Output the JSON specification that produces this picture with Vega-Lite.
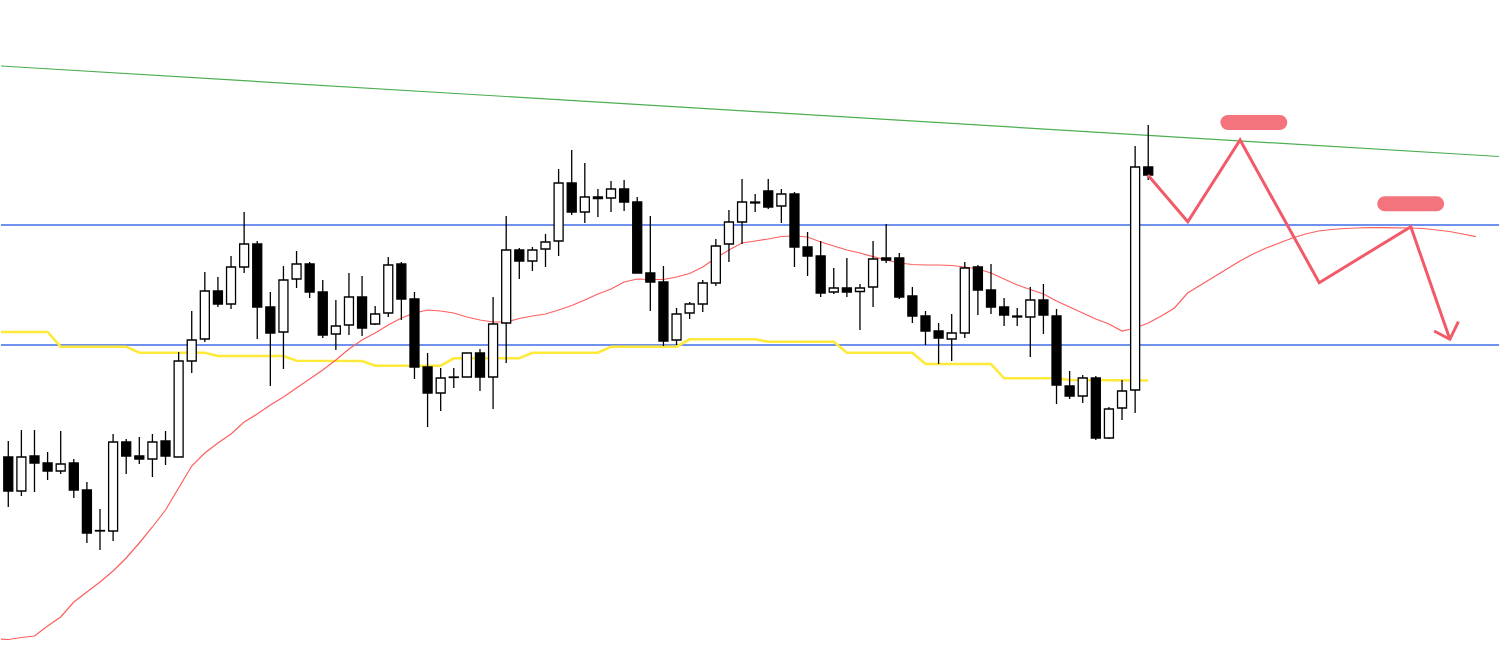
{
  "$schema": "https://vega.github.io/schema/vega-lite/v6.json",
  "width": 1500,
  "height": 645,
  "autosize": {"type": "fit", "contains": "padding"},
  "padding": 0,
  "background": "#ffffff",
  "config": {"view": {"stroke": null}},
  "datasets": {
    "candles": [
      {"t":0,"o":457,"h":441,"l":507,"c":491},
      {"t":1,"o":491,"h":430,"l":496,"c":457},
      {"t":2,"o":456,"h":430,"l":492,"c":463},
      {"t":3,"o":463,"h":452,"l":480,"c":471},
      {"t":4,"o":471,"h":431,"l":474,"c":464},
      {"t":5,"o":463,"h":459,"l":498,"c":490},
      {"t":6,"o":490,"h":482,"l":543,"c":533},
      {"t":7,"o":530.5,"h":509,"l":550,"c":531},
      {"t":8,"o":531,"h":434,"l":541,"c":442},
      {"t":9,"o":442,"h":439,"l":474,"c":456},
      {"t":10,"o":456,"h":437,"l":464,"c":459},
      {"t":11,"o":459,"h":434,"l":477,"c":442},
      {"t":12,"o":441,"h":431,"l":465,"c":456},
      {"t":13,"o":457,"h":352,"l":457,"c":361},
      {"t":14,"o":361,"h":311,"l":373,"c":340},
      {"t":15,"o":339,"h":272,"l":342,"c":291},
      {"t":16,"o":291,"h":277,"l":307,"c":304},
      {"t":17,"o":304,"h":256,"l":309,"c":267},
      {"t":18,"o":267,"h":212,"l":273,"c":244},
      {"t":19,"o":244,"h":241,"l":339,"c":307},
      {"t":20,"o":307,"h":292,"l":386,"c":333},
      {"t":21,"o":332,"h":266,"l":369,"c":280},
      {"t":22,"o":279,"h":251,"l":288,"c":264},
      {"t":23,"o":264,"h":262,"l":298,"c":292},
      {"t":24,"o":292,"h":280,"l":338,"c":335},
      {"t":25,"o":334,"h":300,"l":350,"c":326},
      {"t":26,"o":325,"h":273,"l":335,"c":297},
      {"t":27,"o":297,"h":276,"l":336,"c":328},
      {"t":28,"o":324,"h":306,"l":325,"c":314},
      {"t":29,"o":313,"h":257,"l":317,"c":265},
      {"t":30,"o":264,"h":262,"l":320,"c":299},
      {"t":31,"o":299,"h":292,"l":379,"c":367},
      {"t":32,"o":367,"h":353,"l":427,"c":393},
      {"t":33,"o":393,"h":368,"l":411,"c":378},
      {"t":34,"o":377,"h":368,"l":388,"c":377.5},
      {"t":35,"o":377,"h":353,"l":377,"c":353},
      {"t":36,"o":353,"h":349,"l":391,"c":377},
      {"t":37,"o":377,"h":297,"l":409,"c":324},
      {"t":38,"o":323,"h":216,"l":363,"c":250},
      {"t":39,"o":250,"h":248,"l":279,"c":261},
      {"t":40,"o":261,"h":247,"l":271,"c":250},
      {"t":41,"o":249,"h":234,"l":267,"c":242},
      {"t":42,"o":241,"h":169,"l":256,"c":183},
      {"t":43,"o":183,"h":150,"l":215,"c":212},
      {"t":44,"o":212,"h":163,"l":223,"c":197},
      {"t":45,"o":197,"h":189,"l":217,"c":198.5},
      {"t":46,"o":198,"h":181,"l":212,"c":189},
      {"t":47,"o":189,"h":180,"l":211,"c":202},
      {"t":48,"o":202,"h":197,"l":273,"c":273},
      {"t":49,"o":273,"h":216,"l":311,"c":282},
      {"t":50,"o":282,"h":266,"l":346,"c":341},
      {"t":51,"o":340,"h":308,"l":345,"c":314},
      {"t":52,"o":313,"h":302,"l":319,"c":304},
      {"t":53,"o":304,"h":280,"l":312,"c":283},
      {"t":54,"o":283,"h":239,"l":286,"c":246},
      {"t":55,"o":244,"h":210,"l":262,"c":222},
      {"t":56,"o":222,"h":179,"l":244,"c":202},
      {"t":57,"o":202,"h":194,"l":212,"c":203},
      {"t":58,"o":191,"h":179,"l":209,"c":207},
      {"t":59,"o":206,"h":189,"l":223,"c":194},
      {"t":60,"o":194,"h":192,"l":267,"c":247},
      {"t":61,"o":247,"h":232,"l":276,"c":256},
      {"t":62,"o":256,"h":241,"l":297,"c":293},
      {"t":63,"o":292,"h":268,"l":294,"c":288},
      {"t":64,"o":288,"h":258,"l":297,"c":292},
      {"t":65,"o":291.5,"h":284,"l":330,"c":288},
      {"t":66,"o":287,"h":241,"l":307,"c":259},
      {"t":67,"o":258,"h":224,"l":263,"c":260},
      {"t":68,"o":258,"h":253,"l":299,"c":297},
      {"t":69,"o":296,"h":287,"l":323,"c":316},
      {"t":70,"o":316,"h":311,"l":345,"c":331},
      {"t":71,"o":331,"h":323,"l":364,"c":338},
      {"t":72,"o":339,"h":314,"l":361,"c":333},
      {"t":73,"o":333,"h":262,"l":338,"c":268},
      {"t":74,"o":267,"h":265,"l":315,"c":290},
      {"t":75,"o":290,"h":264,"l":314,"c":307},
      {"t":76,"o":307,"h":298,"l":326,"c":315},
      {"t":77,"o":316,"h":308,"l":326,"c":317},
      {"t":78,"o":317,"h":287,"l":357,"c":300},
      {"t":79,"o":300,"h":284,"l":334,"c":315},
      {"t":80,"o":316,"h":309,"l":404,"c":385},
      {"t":81,"o":386,"h":371,"l":399,"c":396},
      {"t":82,"o":396,"h":375,"l":403,"c":378},
      {"t":83,"o":378,"h":376,"l":440,"c":438},
      {"t":84,"o":438,"h":407,"l":439,"c":409},
      {"t":85,"o":408,"h":380,"l":420,"c":391},
      {"t":86,"o":390,"h":146,"l":413,"c":167},
      {"t":87,"o":167,"h":125,"l":180,"c":175}
    ],
    "ma": [
      {"t":-1,"v":639},{"t":0,"v":639.5},{"t":1,"v":637.5},{"t":2,"v":636},{"t":3,"v":626},
      {"t":4,"v":617},{"t":5,"v":602},{"t":6,"v":592},{"t":7,"v":582},{"t":8,"v":571},
      {"t":9,"v":558},{"t":10,"v":543},{"t":11,"v":527},{"t":12,"v":510},{"t":13,"v":488},
      {"t":14,"v":466},{"t":15,"v":453},{"t":16,"v":443},{"t":17,"v":434},{"t":18,"v":422},
      {"t":19,"v":414},{"t":20,"v":405},{"t":21,"v":397},{"t":22,"v":388},{"t":23,"v":379},
      {"t":24,"v":370},{"t":25,"v":360},{"t":26,"v":349},{"t":27,"v":340},{"t":28,"v":333},
      {"t":29,"v":325},{"t":30,"v":318},{"t":31,"v":313},{"t":32,"v":310},{"t":33,"v":311},
      {"t":34,"v":313},{"t":35,"v":317},{"t":36,"v":320},{"t":37,"v":322},{"t":38,"v":322},
      {"t":39,"v":318.5},{"t":40,"v":316},{"t":41,"v":314},{"t":42,"v":310},{"t":43,"v":305.5},
      {"t":44,"v":300},{"t":45,"v":294},{"t":46,"v":289},{"t":47,"v":282},{"t":48,"v":279},
      {"t":49,"v":279.5},{"t":50,"v":279.5},{"t":51,"v":277},{"t":52,"v":273.5},{"t":53,"v":267},
      {"t":54,"v":258},{"t":55,"v":250},{"t":56,"v":243},{"t":57,"v":241},{"t":58,"v":239},
      {"t":59,"v":236.5},{"t":60,"v":236},{"t":61,"v":237},{"t":62,"v":242},{"t":63,"v":246},
      {"t":64,"v":250},{"t":65,"v":253},{"t":66,"v":256.7},{"t":67,"v":260},{"t":68,"v":263},
      {"t":69,"v":264.5},{"t":70,"v":265},{"t":71,"v":265},{"t":72,"v":265.5},{"t":73,"v":267},
      {"t":74,"v":269},{"t":75,"v":273},{"t":76,"v":279},{"t":77,"v":285},{"t":78,"v":289.5},
      {"t":79,"v":294},{"t":80,"v":301},{"t":81,"v":307},{"t":82,"v":313},{"t":83,"v":319},
      {"t":84,"v":324},{"t":85,"v":331},{"t":86,"v":328},{"t":87,"v":323},{"t":88,"v":316},
      {"t":89,"v":308},{"t":90,"v":293},{"t":91,"v":285},{"t":92,"v":277},{"t":93,"v":269},
      {"t":94,"v":261},{"t":95,"v":254},{"t":96,"v":248},{"t":97,"v":243},{"t":98,"v":238},
      {"t":99,"v":234},{"t":100,"v":231},{"t":101,"v":229.5},{"t":102,"v":228.5},{"t":103,"v":228},
      {"t":104,"v":227.7},{"t":105,"v":227.7},{"t":106,"v":227.8},{"t":107,"v":228},{"t":108,"v":228.5},
      {"t":109,"v":230},{"t":110,"v":231.5},{"t":111,"v":234},{"t":112,"v":236.7}
    ],
    "kijun": [
      {"t":-1,"v":332},{"t":3,"v":332},{"t":4,"v":346.7},{"t":9,"v":346.7},{"t":10,"v":352.7},
      {"t":15,"v":352.7},{"t":16,"v":356},{"t":21,"v":356},{"t":22,"v":360.7},{"t":27,"v":361},
      {"t":28,"v":365.7},{"t":33,"v":365.7},{"t":34,"v":358.3},{"t":39,"v":358.3},{"t":40,"v":352.7},
      {"t":45,"v":352.7},{"t":46,"v":346.7},{"t":51,"v":346.7},{"t":52,"v":339.3},{"t":57,"v":339.3},
      {"t":58,"v":341.7},{"t":63,"v":341.7},{"t":64,"v":352.7},{"t":69,"v":352.7},{"t":70,"v":364},
      {"t":75,"v":364},{"t":76,"v":378.3},{"t":80,"v":378.3},{"t":81,"v":380},{"t":87,"v":380.5}
    ],
    "levels": [{"v":225},{"v":345}],
    "trend": [{"t":-0.556,"v":66},{"t":113.77,"v":156.5}],
    "zigzag": [
      {"k":0,"t":86.97,"v":175},{"k":1,"t":90.02,"v":221.7},{"k":2,"t":94.01,"v":140},
      {"k":3,"t":100.05,"v":282.7},{"k":4,"t":107.04,"v":226.7},{"k":5,"t":110.02,"v":339.3}
    ],
    "arrowhead": [
      {"k":0,"t":108.82,"v":331},{"k":1,"t":110.02,"v":339.3},{"k":2,"t":110.67,"v":321.7}
    ],
    "pills": [
      {"t1":93.08,"t2":97.04,"v":122.5},
      {"t1":105.05,"t2":109.01,"v":203.8}
    ]
  },
  "layer": [
    {
      "data": {"name": "trend"},
      "mark": {"type": "line", "color": "#4caf50", "strokeWidth": 1.2, "clip": true},
      "encoding": {
        "x": {"field": "t", "type": "quantitative", "scale": {"domain": [-0.556, 113.77], "nice": false, "zero": false, "padding": 0}, "axis": null},
        "y": {"field": "v", "type": "quantitative", "scale": {"domain": [0, 645], "reverse": true, "nice": false, "zero": false, "padding": 0}, "axis": null}
      }
    },
    {
      "data": {"name": "levels"},
      "mark": {"type": "rule", "color": "#3f6be6", "strokeWidth": 1.4},
      "encoding": {
        "y": {"field": "v", "type": "quantitative"}
      }
    },
    {
      "data": {"name": "kijun"},
      "mark": {"type": "line", "color": "#ffe93a", "strokeWidth": 2.6, "clip": true},
      "encoding": {
        "x": {"field": "t", "type": "quantitative"},
        "y": {"field": "v", "type": "quantitative"}
      }
    },
    {
      "data": {"name": "ma"},
      "mark": {"type": "line", "color": "#ff5f5f", "strokeWidth": 1.2, "clip": true},
      "encoding": {
        "x": {"field": "t", "type": "quantitative"},
        "y": {"field": "v", "type": "quantitative"}
      }
    },
    {
      "data": {"name": "candles"},
      "mark": {"type": "rule", "color": "#000000", "strokeWidth": 1.3},
      "encoding": {
        "x": {"field": "t", "type": "quantitative"},
        "y": {"field": "h", "type": "quantitative"},
        "y2": {"field": "l"}
      }
    },
    {
      "data": {"name": "candles"},
      "mark": {"type": "bar", "width": 9, "stroke": "#000000", "strokeWidth": 1.3},
      "encoding": {
        "x": {"field": "t", "type": "quantitative"},
        "y": {"field": "o", "type": "quantitative"},
        "y2": {"field": "c"},
        "fill": {"condition": {"test": "datum.c < datum.o", "value": "#ffffff"}, "value": "#000000"}
      }
    },
    {
      "data": {"name": "zigzag"},
      "mark": {"type": "line", "color": "#f25a69", "strokeWidth": 3, "strokeJoin": "miter", "clip": true},
      "encoding": {
        "x": {"field": "t", "type": "quantitative"},
        "y": {"field": "v", "type": "quantitative"},
        "order": {"field": "k", "type": "quantitative"}
      }
    },
    {
      "data": {"name": "arrowhead"},
      "mark": {"type": "line", "color": "#f25a69", "strokeWidth": 3, "strokeJoin": "miter", "clip": true},
      "encoding": {
        "x": {"field": "t", "type": "quantitative"},
        "y": {"field": "v", "type": "quantitative"},
        "order": {"field": "k", "type": "quantitative"}
      }
    },
    {
      "data": {"name": "pills"},
      "mark": {"type": "rule", "color": "#f4747e", "strokeWidth": 15, "strokeCap": "round"},
      "encoding": {
        "x": {"field": "t1", "type": "quantitative"},
        "x2": {"field": "t2"},
        "y": {"field": "v", "type": "quantitative"}
      }
    }
  ]
}
